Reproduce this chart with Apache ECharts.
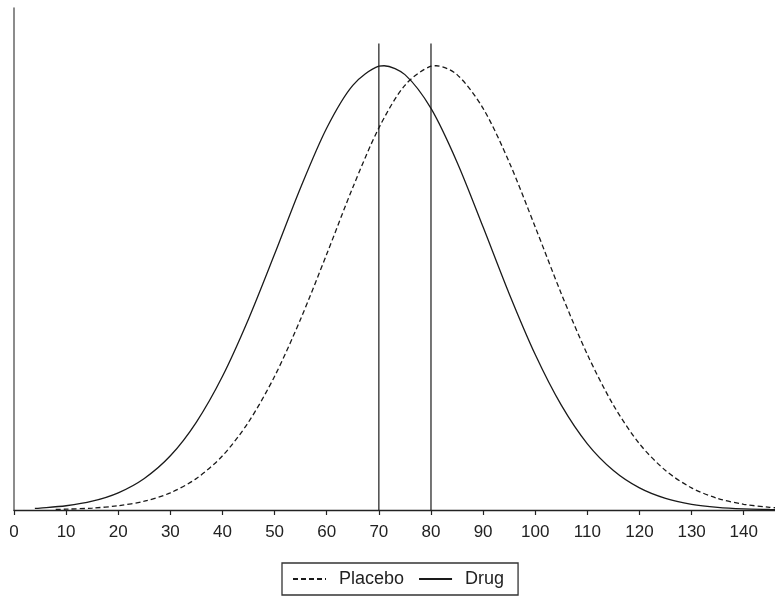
<!DOCTYPE html>
<html>
<head>
<meta charset="utf-8">
<script src="https://cdn.jsdelivr.net/npm/echarts@6/dist/echarts.min.js"></script>
<style>
html,body{margin:0;padding:0;background:#fff;}
#chart{width:775px;height:602px;}
</style>
</head>
<body>
<div id="chart"></div>
<script>
// x positions (score) and curve heights (relative density, peak = 100)
var drugX = [4, 5, 10, 15, 20, 25, 30, 35, 40, 45, 50, 55, 60, 65, 70, 71, 75, 80, 85, 90, 95, 100, 105, 110, 115, 120, 125, 130, 135, 140, 145, 146];
var drugY = [0.37, 0.43, 0.96, 1.98, 3.87, 7.1, 12.2, 19.8, 30.1, 43.0, 57.6, 72.6, 86.0, 95.6, 99.9, 100, 98.0, 90.4, 78.3, 63.7, 48.7, 35.0, 23.6, 14.9, 8.89, 4.97, 2.61, 1.29, 0.6, 0.26, 0.11, 0.09];
var placeboX = [8, 10, 15, 20, 25, 30, 35, 40, 45, 50, 55, 60, 65, 70, 75, 80, 81, 85, 90, 95, 100, 105, 110, 115, 120, 125, 130, 135, 140, 145, 146];
var placeboY = [0.13, 0.18, 0.43, 0.96, 1.98, 3.87, 7.1, 12.2, 19.8, 30.1, 43.0, 57.6, 72.6, 86.0, 95.6, 99.9, 100, 98.0, 90.4, 78.3, 63.7, 48.7, 35.0, 23.6, 14.9, 8.89, 4.97, 2.61, 1.29, 0.6, 0.51];
var refLines = [70, 80];       // vertical reference lines (means)
var refTop = 105;              // height reached by reference lines
var xTicks = [0, 10, 20, 30, 40, 50, 60, 70, 80, 90, 100, 110, 120, 130, 140];
var seriesNames = ['Placebo', 'Drug'];

function pairs(xs, ys) {
  var out = [];
  for (var i = 0; i < xs.length; i++) out.push([xs[i], ys[i]]);
  return out;
}

var FONT = '"Liberation Sans", Arial, Helvetica, sans-serif';
var ink = '#1a1a1a';

var series = [
  {
    name: 'Placebo', type: 'line', data: pairs(placeboX, placeboY),
    smooth: 0.3, symbol: 'none', silent: true,
    lineStyle: { color: ink, width: 1.3, type: [5, 3] },
    itemStyle: { color: ink }
  },
  {
    name: 'Drug', type: 'line', data: pairs(drugX, drugY),
    smooth: 0.3, symbol: 'none', silent: true,
    lineStyle: { color: ink, width: 1.3, type: 'solid' },
    itemStyle: { color: ink }
  }
];
refLines.forEach(function (v, i) {
  series.push({
    name: 'ref' + i, type: 'line', data: [[v, 0], [v, refTop]],
    symbol: 'none', silent: true,
    lineStyle: { color: ink, width: 1.2 }
  });
});

var chart = echarts.init(document.getElementById('chart'), null, { renderer: 'canvas' });
chart.setOption({
  animation: false,
  backgroundColor: '#ffffff',
  grid: { left: 14, right: 0, top: 8, bottom: 92, containLabel: false },
  xAxis: {
    type: 'value', min: 0, max: 146, interval: 10,
    axisLine: { show: true, onZero: false, lineStyle: { color: '#222', width: 1.3 } },
    axisTick: { show: true, length: 5, customValues: xTicks, lineStyle: { color: '#222', width: 1.2 } },
    axisLabel: { customValues: xTicks, margin: 14, fontFamily: FONT, fontSize: 17, color: '#222' },
    splitLine: { show: false }
  },
  yAxis: {
    type: 'value', min: 0, max: 113,
    axisLine: { show: true, lineStyle: { color: '#666', width: 1.5 } },
    axisTick: { show: false },
    axisLabel: { show: false },
    splitLine: { show: false }
  },
  legend: {
    data: seriesNames,
    left: 282, top: 563,
    orient: 'horizontal',
    itemWidth: 33, itemHeight: 14, itemGap: 14,
    padding: [7, 14, 7, 10],
    borderColor: '#333', borderWidth: 1.3, borderRadius: 0,
    selectedMode: false,
    itemStyle: { opacity: 0, borderWidth: 0 },
    textStyle: { fontFamily: FONT, fontSize: 18, color: '#222', padding: [0, 0, 0, 8] }
  },
  series: series
});
</script>
</body>
</html>
